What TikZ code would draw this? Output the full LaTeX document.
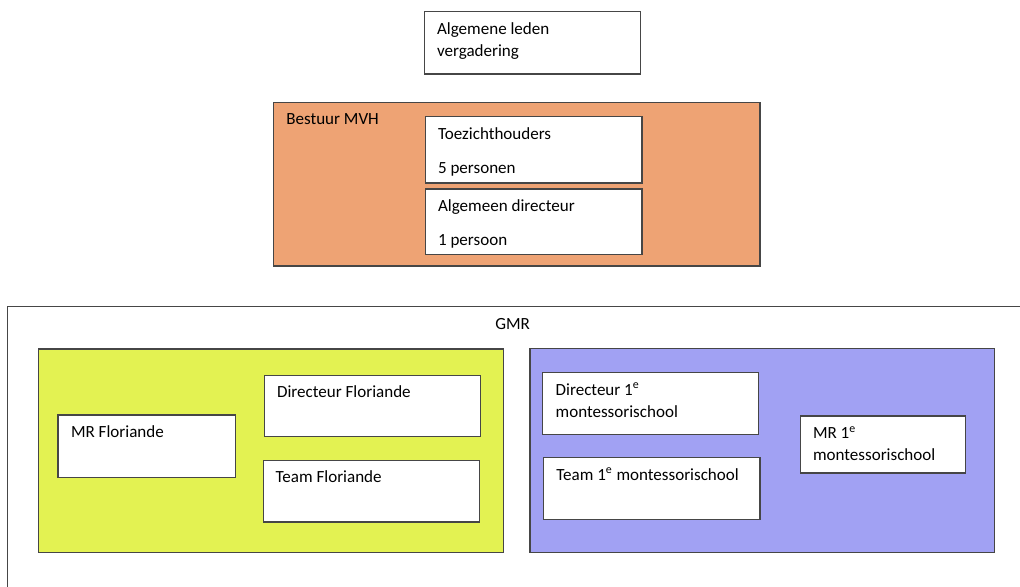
\documentclass[tikz,border=0pt]{standalone}
\usepackage{fontspec}
\setmainfont{Carlito}
\usetikzlibrary{positioning,fit}

\definecolor{bestuur}{RGB}{238,163,116}
\definecolor{flor}{RGB}{227,242,82}
\definecolor{mont}{RGB}{161,161,243}
\definecolor{rand}{RGB}{70,70,70}

\begin{document}
\begin{tikzpicture}[%
    ,x=0.02cm,y=-0.02cm
    ,block/.style = {%
        ,draw=rand
        ,line width=0.8pt
        ,fill=white
        ,inner sep=0pt
        }
    ,group/.style = {%
        ,block
        ,fill=#1
        }
    ,txt/.style = {%
        ,anchor=base west
        ,inner sep=0pt
        ,align=left
        ,font=\fontsize{9.7}{12.7}\selectfont
        }
    ]
\clip (0,0) rectangle (1020,586);

% Algemene leden vergadering (base = last line)
\node (alv) [block, fit={(424.5,11.5) (640.5,74)}] {};
\node (alvt) [txt] at (436.7,56.7) {Algemene leden\\vergadering};

% Bestuur MVH
\node (mvh) [group=bestuur, fit={(273.5,102.5) (760,266)}] {};
\node (mvht) [txt] at (286,124.3) {Bestuur MVH};
\node (tzh) [block, fit={(425.7,116.7) (642,183)}] {};
\node (tzht) [txt] at (437.7,173.3) {Toezichthouders\\[6.6pt]5 personen};
\node (ad) [block, fit={(425.7,189) (642,254.3)}] {};
\node (adt) [txt] at (437.7,245.7) {Algemeen directeur\\[6.6pt]1 persoon};

% GMR
\node (gmr) [block, fit={(7.7,306.3) (1040,620)}] {};
\node (gmrt) [txt] at (495,329.3) {GMR};

% Floriande
\node (flo) [group=flor, fit={(38.3,349) (503.3,552.3)}] {};
\node (mrf) [block, fit={(58,415) (235.7,477.7)}] {};
\node (mrft) [txt] at (70.7,437.3) {MR Floriande};
\node (dirf) [block, fit={(264.7,375.3) (480.7,436.7)}] {};
\node (dirft) [txt] at (276.7,397) {Directeur Floriande};
\node (tmf) [block, fit={(263.7,460.7) (479.3,522)}] {};
\node (tmft) [txt] at (275.3,482.7) {Team Floriande};

% 1e montessorischool
\node (ms) [group=mont, fit={(530,348.3) (994.7,552.3)}] {};
\node (dirm) [block, fit={(542.7,372.7) (758.7,434.7)}] {};
\node (dirmt) [txt] at (555.3,417.3) {Directeur 1\textsuperscript{e}\\montessorischool};
\node (tmm) [block, fit={(543.7,457.7) (760,519.3)}] {};
\node (tmmt) [txt] at (556,480) {Team 1\textsuperscript{e} montessorischool};
\node (mrm) [block, fit={(800.7,416) (965.3,473)}] {};
\node (mrmt) [txt] at (812.7,460.7) {MR 1\textsuperscript{e}\\montessorischool};
\end{tikzpicture}
\end{document}
